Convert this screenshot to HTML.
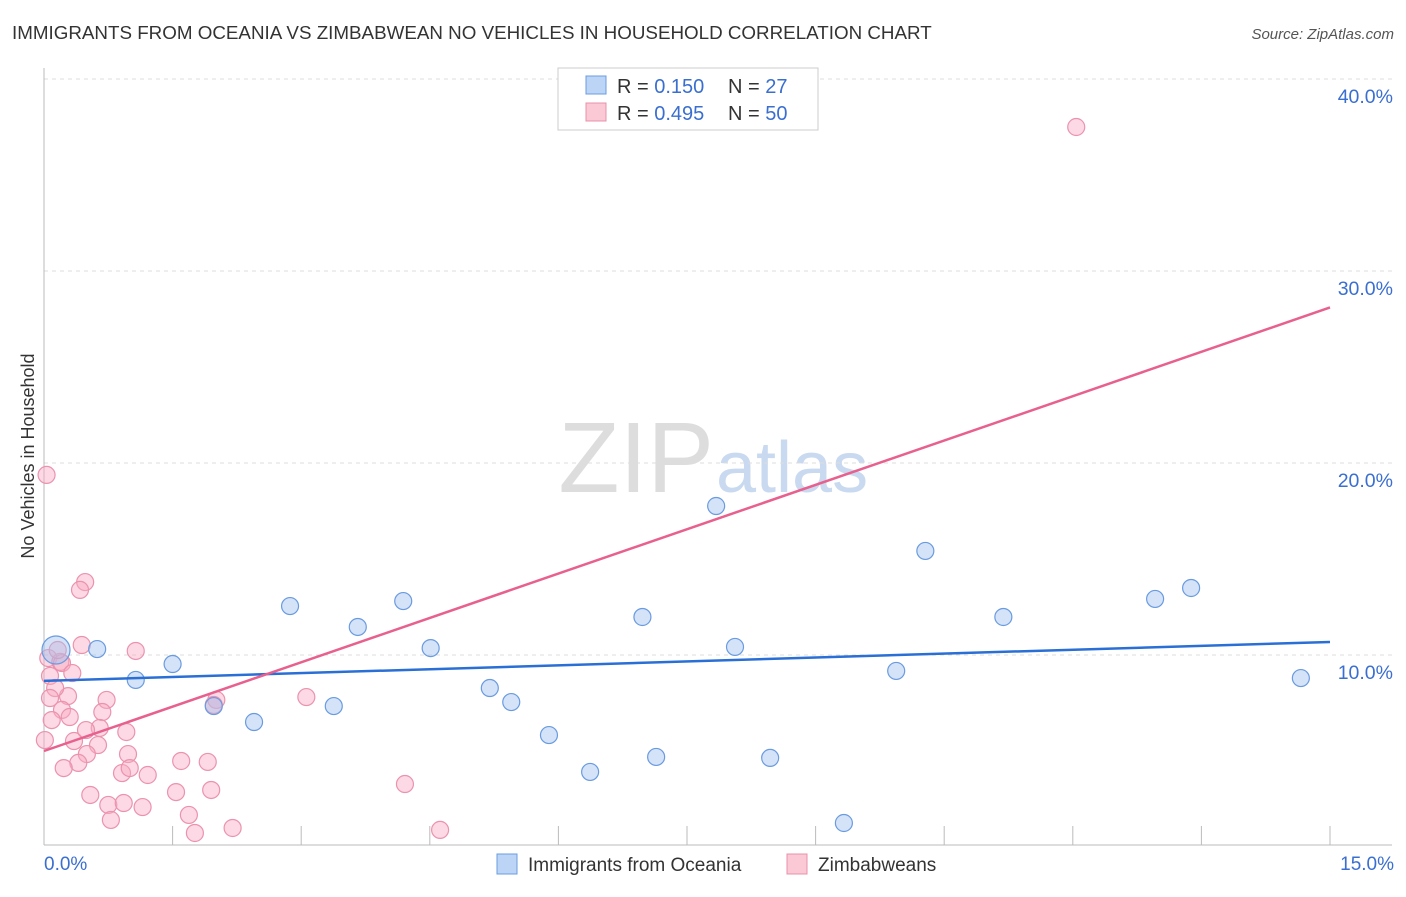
<!DOCTYPE html>
<html><head><meta charset="utf-8"><style>
body{margin:0;background:#fff;font-family:"Liberation Sans",sans-serif;}
svg text{font-family:"Liberation Sans",sans-serif;}
</style></head><body>
<svg id="chart" width="1406" height="892">
<text x="12" y="39" font-size="18.8" fill="#333">IMMIGRANTS FROM OCEANIA VS ZIMBABWEAN NO VEHICLES IN HOUSEHOLD CORRELATION CHART</text>
<text x="1394" y="39" font-size="15" fill="#555" font-style="italic" text-anchor="end">Source: ZipAtlas.com</text>
<text x="714" y="492" font-size="100" fill="#ddd" text-anchor="end" font-family="Liberation Serif">ZIP</text>
<text x="716" y="492" font-size="72" fill="#c9d9f0">atlas</text>
<text transform="translate(34,456) rotate(-90)" font-size="18" fill="#333" text-anchor="middle">No Vehicles in Household</text>
<g id="grid"></g><g id="marks"></g>
<g>
<rect x="558" y="68" width="260" height="62" fill="#fff" stroke="#ccc"/>
<rect x="586" y="76" width="20" height="18" fill="#bcd4f5" stroke="#6a9be0"/>
<rect x="586" y="103" width="20" height="18" fill="#fbc8d6" stroke="#e890aa"/>
<text x="617" y="93" font-size="20" fill="#333">R = <tspan fill="#3a6fd0">0.150</tspan><tspan x="728">N = </tspan><tspan fill="#3a6fd0">27</tspan></text>
<text x="617" y="120" font-size="20" fill="#333">R = <tspan fill="#3a6fd0">0.495</tspan><tspan x="728">N = </tspan><tspan fill="#3a6fd0">50</tspan></text>
</g>
<g>
<rect x="497" y="854" width="20" height="20" fill="#bcd4f5" stroke="#6a9be0"/>
<text x="528" y="871" font-size="19" fill="#333">Immigrants from Oceania</text>
<rect x="787" y="854" width="20" height="20" fill="#fbc8d6" stroke="#e890aa"/>
<text x="818" y="871" font-size="19" fill="#333">Zimbabweans</text>
</g>
</svg>
<script>
const yTicks=[10,20,30,40];
const xTickLabels=["0.0%","15.0%"];
const blueX=[0.14,0.62,1.07,1.50,1.98,2.45,2.87,3.38,3.66,4.19,4.51,5.20,5.45,5.89,6.37,6.98,7.14,7.84,8.06,8.47,9.33,9.94,10.28,11.19,12.96,13.38,14.66];
const blueY=[10.26,10.31,8.70,9.53,7.34,6.51,12.55,7.34,11.46,12.81,10.36,8.28,7.55,5.83,3.91,11.98,4.69,17.76,10.42,4.64,1.25,9.17,15.42,11.98,12.92,13.49,8.80];
const pinkX=[0.03,0.48,0.42,0.44,1.07,0.05,0.19,0.21,0.33,0.07,0.28,0.73,0.13,0.07,0.21,0.30,0.68,3.06,2.01,1.98,0.96,0.63,0.35,0.50,0.98,0.40,0.23,0.91,1.00,1.21,1.60,1.91,1.54,1.95,0.54,0.75,0.93,1.15,0.78,1.69,1.76,2.20,4.62,4.21,12.04,0.09,0.16,0.65,0.49,0.01];
const pinkY=[19.38,13.80,13.39,10.52,10.21,9.84,9.64,9.58,9.06,8.91,7.86,7.66,8.28,7.76,7.14,6.77,7.03,7.81,7.66,7.40,5.99,5.31,5.52,4.84,4.84,4.38,4.11,3.85,4.11,3.75,4.48,4.43,2.86,2.97,2.71,2.19,2.29,2.08,1.41,1.67,0.73,0.99,0.89,3.28,37.5,6.61,10.26,6.20,6.09,5.57];
const blueLine=[8.65,10.68];
const pinkLine=[5.0,28.1];
const xMin=0,xMax=15;
const NS="http://www.w3.org/2000/svg";
function X(v){return 44+(v-xMin)/(xMax-xMin)*1286;}
function Y(v){return 847-v*19.2;}
const grid=document.getElementById('grid'),marks=document.getElementById('marks');
function mk(tag,attrs,parent){const e=document.createElementNS(NS,tag);for(const k in attrs)e.setAttribute(k,attrs[k]);parent.appendChild(e);return e;}
yTicks.forEach(t=>{
 const l=mk('line',{x1:44,x2:1392,y1:Y(t),y2:Y(t),stroke:'#ddd','stroke-dasharray':'4,4'},grid);
 
 
 const tx=mk('text',{x:1393,y:Y(t)+24,'font-size':19.5,fill:'#3a6fd0','text-anchor':'end'},grid);
 tx.textContent=t.toFixed(1)+'%';
 
 
});
const ax=mk('line',{x1:44,x2:1392,y1:845,y2:845,stroke:'#bbb'},grid);


const ay=mk('line',{x1:44,x2:44,y1:68,y2:845,stroke:'#bbb'},grid);


for(let i=0;i<=10;i++){
 const t=mk('line',{x1:X(i*1.5),x2:X(i*1.5),y1:826,y2:845,stroke:'#bbb'},grid);
 
 
}
[[xMin,'start',44],[xMax,'end',1394]].forEach((d,i)=>{
 const tx=mk('text',{x:d[2],y:870,'font-size':19,fill:'#3a6fd0','text-anchor':d[1]},grid);
 tx.textContent=xTickLabels[i];
 
 
});
pinkX.forEach((x,i)=>{
 const c=mk('circle',{cx:X(x),cy:Y(pinkY[i]),r:8.5,fill:'rgba(248,170,195,0.45)',stroke:'#eb93ae','stroke-width':1.2},marks);
 
 
});
blueX.forEach((x,i)=>{
 const c=mk('circle',{cx:X(x),cy:Y(blueY[i]),r:i===0?14:8.5,fill:'rgba(160,192,240,0.45)',stroke:'#6a9be0','stroke-width':1.2},marks);
 
 
});
const bl=mk('line',{x1:X(xMin),x2:X(xMax),y1:Y(blueLine[0]),y2:Y(blueLine[1]),stroke:'#2a6fd6','stroke-width':2.5},marks);


const pl=mk('line',{x1:X(xMin),x2:X(xMax),y1:Y(pinkLine[0]),y2:Y(pinkLine[1]),stroke:'#e8608e','stroke-width':2.5},marks);


</script>
</body></html>
